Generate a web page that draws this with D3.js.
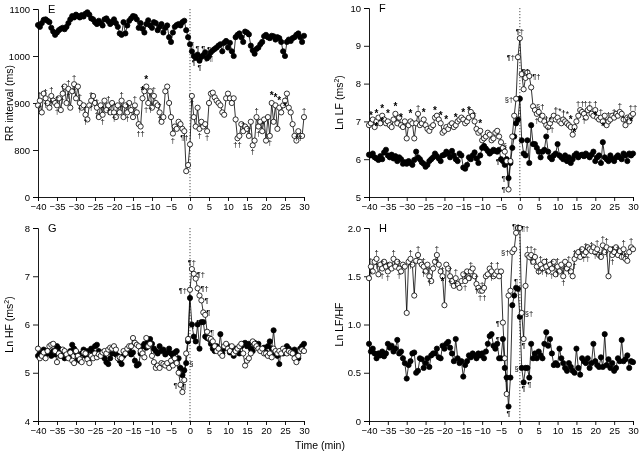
<!DOCTYPE html>
<html><head><meta charset="utf-8">
<script src="https://cdnjs.cloudflare.com/ajax/libs/d3/7.8.5/d3.min.js"></script>
<style>body{margin:0;background:#fff}svg{filter:grayscale(1)}text{font-family:"Liberation Sans",Arial,sans-serif;fill:#000}</style>
</head><body><svg id="c" width="640" height="457"></svg>
<script>
// time points: -40 .. 30 min in 0.5 min steps
const times = d3.range(-40, 30.01, 0.5);
const xTickValues = [-40,-35,-30,-25,-20,-15,-10,-5,0,5,10,15,20,25,30];

// Panel E: RR interval (ms)
const rrFilled = [
1066,1062,1070,1077,1078,1075,1072,1060,1052,1045,
1050,1055,1058,1060,1057,1062,1070,1078,1085,1082,
1088,1085,1082,1087,1084,1090,1093,1088,1080,1078,
1072,1068,1075,1070,1065,1078,1080,1074,1068,1072,
1078,1070,1062,1048,1045,1072,1048,1065,1075,1080,
1085,1084,1078,1060,1070,1058,1050,1068,1076,1065,
1060,1072,1070,1055,1062,1068,1050,1060,1065,1040,
1030,1050,1062,1066,1068,1065,1072,1075,1055,1040,
1025,1010,1000,996,1003,990,998,1002,1008,995,
1000,1008,1012,1015,1018,1022,1025,1010,1028,1032,
1018,1028,1010,1000,1040,1045,1048,1040,1030,1052,
1050,1046,1022,1012,1005,1015,1018,1025,1030,1042,
1045,1040,1038,1043,1042,1035,1040,1038,1030,1010,
1000,1030,1035,1032,1038,1040,1045,1048,1040,1030,
1043];
const rrOpen = [
895,905,880,920,910,900,890,915,905,900,
895,910,885,920,935,900,930,890,925,940,
910,935,900,890,895,875,865,895,905,915,
900,890,870,895,875,905,885,895,880,900,
880,870,895,880,905,870,895,880,900,885,
870,895,880,855,850,910,925,935,900,925,
890,915,900,895,880,860,870,925,935,900,
870,835,850,845,860,855,845,840,755,768,
812,915,870,850,890,845,860,850,855,840,
900,920,922,912,905,900,895,880,875,910,
920,910,900,910,865,825,830,855,840,850,
845,830,860,810,820,870,850,860,840,865,
820,870,830,900,860,895,845,890,880,895,
905,920,890,880,855,830,820,840,830,830,
870];
const rrTicks = [700,800,900,1000,1100];
const rrTickLabels = ["0","800","900","1000","1100"];

// Panel F: Ln LF (ms2)
const lfFilled = [
6.12,6.10,6.15,6.05,6.02,5.98,6.08,6.00,6.18,6.25,
6.10,6.05,6.12,6.02,6.08,5.95,6.05,6.00,5.88,5.92,
5.88,5.95,5.90,5.85,5.98,6.20,6.05,6.00,5.92,5.88,
5.80,5.85,5.95,6.00,6.05,6.15,6.08,6.02,5.95,6.10,
6.12,6.20,6.15,6.05,6.22,6.10,6.00,5.95,6.15,6.10,
5.78,5.75,5.85,6.05,6.00,6.10,6.18,6.02,5.90,6.10,
6.30,6.35,6.28,6.22,6.15,6.20,6.25,6.22,6.20,6.25,
6.00,5.95,5.85,6.00,5.50,5.90,6.30,6.60,6.95,7.05,
7.60,6.50,6.15,6.10,6.50,5.90,6.90,6.40,6.40,6.30,
6.20,6.05,6.20,6.25,6.60,6.20,6.05,6.00,6.10,6.15,
6.40,6.10,6.05,6.00,6.10,5.95,6.05,5.90,6.00,6.10,
6.15,6.05,6.10,6.12,6.08,6.15,6.10,6.05,6.12,6.20,
5.95,6.05,6.10,5.90,6.45,6.05,6.00,5.95,6.10,6.00,
5.95,6.05,6.10,6.05,6.00,6.15,6.10,5.95,6.15,6.10,
6.15];
const lfOpen = [
6.90,6.95,7.05,6.85,7.00,7.10,6.95,7.15,7.05,6.95,
7.00,6.90,6.85,7.05,7.20,6.95,7.10,6.90,6.85,7.00,
6.55,6.90,7.00,6.95,6.55,6.95,7.20,6.90,6.95,7.05,
6.90,6.80,6.75,6.85,6.90,7.10,7.15,7.05,6.95,6.70,
6.75,6.85,6.80,6.90,6.95,6.85,6.90,7.00,7.05,7.10,
7.05,6.95,7.00,7.10,7.25,7.15,7.00,6.80,6.70,6.75,
6.50,6.55,6.60,6.70,6.65,6.50,6.55,6.70,6.75,6.60,
6.45,6.30,6.20,5.95,5.20,5.95,6.60,7.15,7.60,8.70,
9.20,8.25,7.85,8.15,8.30,8.20,7.90,7.40,7.30,7.20,
7.25,7.05,7.15,7.00,6.90,6.85,6.95,7.05,7.15,7.05,
7.10,7.00,6.95,7.05,7.00,6.95,6.90,6.85,6.65,6.85,
7.00,7.15,7.30,7.25,7.20,7.10,7.30,7.35,7.20,7.15,
7.30,7.10,7.05,7.10,7.00,7.15,6.90,7.00,7.05,7.15,
7.10,7.20,7.15,7.25,7.20,7.05,6.90,7.10,7.00,7.15,
7.20];
const lfTicks = [5,6,7,8,9,10];
const lfTickLabels = ["5","6","7","8","9","10"];

// Panel G: Ln HF (ms2)
const hfFilled = [
5.35,5.42,5.40,5.48,5.38,5.45,5.40,5.35,5.45,5.38,
5.55,5.50,5.35,5.42,5.30,5.38,5.32,5.45,5.58,5.50,
5.42,5.28,5.25,5.40,5.48,5.35,5.45,5.30,5.50,5.42,
5.55,5.58,5.45,5.38,5.35,5.30,5.22,5.18,5.30,5.40,
5.42,5.38,5.35,5.25,5.18,5.35,5.40,5.45,5.50,5.38,
5.42,5.25,5.15,5.18,5.40,5.55,5.60,5.52,5.65,5.70,
5.60,5.50,5.45,5.40,5.55,5.45,5.48,5.38,5.42,5.50,
5.40,5.35,5.42,5.45,5.30,5.10,4.95,5.05,5.20,5.65,
6.55,6.00,5.75,5.65,6.00,5.50,6.05,6.05,5.75,5.72,
5.70,5.60,5.50,5.45,5.55,5.45,5.80,5.40,5.50,5.55,
5.55,5.42,5.48,5.35,5.50,5.45,5.40,5.55,5.60,5.62,
5.55,5.60,5.50,5.45,5.62,5.55,5.60,5.50,5.45,5.52,
5.42,5.55,5.65,5.50,5.88,5.40,5.35,5.18,5.45,5.40,
5.42,5.55,5.50,5.45,5.40,5.48,5.42,5.30,5.50,5.55,
5.60];
const hfOpen = [
5.50,5.30,5.35,5.42,5.30,5.45,5.55,5.58,5.60,5.45,
5.22,5.40,5.35,5.48,5.45,5.38,5.30,5.42,5.25,5.20,
5.45,5.35,5.28,5.22,5.42,5.40,5.28,5.20,5.35,5.30,
5.40,5.32,5.38,5.35,5.42,5.45,5.40,5.48,5.52,5.50,
5.55,5.48,5.30,5.32,5.30,5.45,5.40,5.50,5.55,5.55,
5.72,5.62,5.58,5.55,5.45,5.40,5.32,5.72,5.55,5.60,
5.35,5.22,5.10,5.15,5.10,5.20,5.18,5.15,5.20,5.10,
5.25,5.15,5.30,5.20,5.00,4.75,4.60,4.85,5.40,5.70,
6.72,7.15,7.05,6.95,6.75,6.60,6.50,6.25,6.20,5.85,
5.72,5.70,5.65,5.55,5.45,5.50,5.40,5.35,5.55,5.60,
5.50,5.45,5.55,5.40,5.45,5.50,5.55,5.60,5.40,5.15,
5.25,5.30,5.40,5.65,5.60,5.55,5.50,5.45,5.50,5.40,
5.40,5.35,5.40,5.32,5.50,5.45,5.40,5.45,5.40,5.50,
5.45,5.40,5.45,5.42,5.40,5.30,5.22,5.35,5.45,5.48,
5.45];
const hfTicks = [4,5,6,7,8];
const hfTickLabels = ["4","5","6","7","8"];

// Panel H: Ln LF/HF
const ratioFilled = [
0.80,0.72,0.75,0.70,0.65,0.70,0.68,0.72,0.67,0.70,
0.80,0.76,0.78,0.72,0.75,0.84,0.70,0.72,0.65,0.60,
0.44,0.58,0.62,0.70,0.71,0.50,0.52,0.65,0.64,0.55,
0.60,0.65,0.56,0.68,0.70,0.70,0.75,0.66,0.65,0.78,
0.75,0.80,0.82,0.76,0.70,0.62,0.85,0.65,0.60,0.62,
0.46,0.58,0.62,0.68,0.66,0.70,0.68,0.65,0.70,0.68,
0.70,0.65,0.72,0.80,0.88,0.90,0.78,0.75,0.80,0.65,
0.65,0.85,0.55,0.45,0.15,0.45,1.20,1.30,1.38,1.37,
1.08,0.55,0.40,0.55,0.55,0.45,0.80,0.65,0.70,0.65,
0.72,0.68,0.65,0.80,0.92,0.78,0.85,0.70,0.58,0.60,
0.58,0.75,0.65,0.60,0.55,0.52,0.60,0.56,0.52,0.50,
0.75,0.55,0.48,0.65,0.62,0.60,0.65,0.55,0.60,0.80,
0.62,0.58,0.56,0.66,0.56,0.90,0.58,0.64,0.55,0.60,
0.52,0.55,0.65,0.62,0.84,0.62,0.64,0.68,0.55,0.62,
0.61];
const ratioOpen = [
1.48,1.60,1.55,1.65,1.68,1.52,1.62,1.58,1.65,1.60,
1.55,1.62,1.58,1.68,1.60,1.65,1.58,1.55,1.62,1.60,
1.12,1.65,1.68,1.62,1.30,1.66,1.72,1.65,1.62,1.60,
1.55,1.62,1.50,1.45,1.58,1.65,1.72,1.62,1.55,1.50,
1.20,1.62,1.58,1.50,1.45,1.40,1.48,1.42,1.38,1.45,
1.52,1.45,1.55,1.48,1.55,1.58,1.50,1.42,1.38,1.35,
1.35,1.38,1.50,1.52,1.58,1.55,1.50,1.52,1.55,1.50,
1.55,1.02,0.65,0.28,1.30,1.35,1.75,1.78,1.95,2.00,
2.00,1.12,0.85,1.40,1.72,1.70,1.72,1.65,1.70,1.60,
1.55,1.62,1.58,1.65,1.60,1.55,1.62,1.58,1.65,1.52,
1.60,1.55,1.62,1.50,1.65,1.58,1.62,1.55,1.50,1.68,
1.72,1.75,1.70,1.78,1.72,1.75,1.80,1.78,1.76,1.80,
1.75,1.78,1.72,1.70,1.82,1.75,1.80,1.50,1.78,1.72,
1.75,1.80,1.72,1.76,1.70,1.78,1.68,1.66,1.75,1.80,
1.78];
const ratioTicks = [0,0.5,1.0,1.5,2.0];
const ratioTickLabels = ["0","0.5","1.0","1.5","2.0"];

// significance marks: [time, symbol, side] side: 1 above, -1 below, 0 left, 2 right
const marksRRFilled = [[0.5,"¶",1],[2,"¶",1],[3.5,"¶",1],[5,"¶",1],[1,"¶",-1],[2.5,"¶",-1],[4,"¶",-1],[5.5,"¶",-1]];
const marksRROpen = [
[-39.5,"†",1],[-38,"†",1],[-36.5,"†",1],[-35,"†",1],[-33.5,"†",1],[-32,"†",1],[-30.5,"†",1],[-29,"†",1],[-27.5,"†",1],[-26,"†",1],[-24.5,"†",1],[-23,"†",1],[-21.5,"†",1],[-20,"†",1],[-18,"†",1],[-16.5,"†",1],[-14.5,"†",1],[-12.5,"*",1],[-11.5,"*",1],[-9.5,"†",1],[-8,"†",1],
[-39.5,"†",-1],[-38,"†",-1],[-36.5,"†",-1],[-35,"†",-1],[-33.5,"†",-1],[-32,"†",-1],[-30.5,"†",-1],[-29,"†",-1],[-27.5,"†",-1],[-26,"†",-1],[-24.5,"†",-1],[-23,"†",-1],[-21.5,"†",-1],[-20,"†",-1],[-18,"†",-1],[-16.5,"†",-1],[-13,"††",-1],[-11,"††",-1],[-8,"†",-1],[-4.5,"†",-1],
[-1.5,"¶†",-1],[0.5,"†",-1],[2.5,"†",-1],[4.5,"†",-1],[12.5,"††",-1],[16.5,"†",-1],[18,"†",-1],[21,"†",-1],[25,"*",-1],[28.5,"††",-1],
[14,"†",1],[15.5,"†",1],[17.5,"†",1],[19,"†",1],[21.5,"*",1],[22.5,"*",1],[23.5,"*",1],[30,"†",1]];
const marksLFFilled = [[-4.5,"¶",0],[-3,"¶",0]];
const marksLFOpen = [
[-39.5,"*",1],[-38,"*",1],[-36.5,"*",1],[-35,"*",1],[-33,"*",1],[-31.5,"*",1],[-29,"*",1],[-27,"†",1],[-25.5,"*",1],[-22.5,"*",1],[-21,"*",1],[-19.5,"*",1],[-17,"*",1],[-15,"*",1],[-13.5,"*",1],[-12,"†",1],[-10.5,"*",1],
[-38,"*",-1],[-36.5,"*",-1],
[-4,"§",1],[-3,"¶",0],[-1,"§†",0],[-0.5,"¶†",0],[0,"¶†",1],[1.5,"¶†",1],[2.5,"¶†",2],[3.5,"§†",2],[4.5,"†",-1],[7.5,"†*",1],[8,"††",-1],
[10,"†*",1],[12,"†*",1],[13.5,"*",1],[14.5,"*",-1],[16,"††",1],[18,"††",1],[20,"†",1],[21.5,"†",1],[23.5,"†",1],[25,"†",1],[26.5,"†",1],[28,"††",1],[30,"††",1],[17,"†",-1],[20,"*",-1],[22,"*",-1],[29.5,"*",-1]];
const marksHFFilled = [[-1,"§",2],[2,"¶",0],[3.5,"¶",0]];
const marksHFOpen = [[-2.5,"¶",0],[-1.5,"¶",-1],[0,"¶†",0],[0.5,"¶†",1],[1,"¶†",2],[2,"¶†",2],[3,"¶",2],[3.5,"¶",2],[4.5,"¶",2]];
const marksRatioFilled = [[-4.5,"¶",0],[-3,"¶",-1],[-2.5,"¶",0],[-1,"¶",1],[0.5,"§",0],[1,"¶",-1],[2.5,"¶",-1]];
const marksRatioOpen = [
[-39.5,"†",1],[-38,"†",1],[-36.5,"†",1],[-35,"†",1],[-33.5,"†",1],[-32,"†",1],[-29,"†",1],[-27,"†",1],[-25.5,"†",1],[-24,"†",1],[-22,"†",1],[-20.5,"†",1],[-18.5,"†",1],[-17,"†",1],[-14.5,"†",1],[-13,"†",1],[-11.5,"†",1],[-10,"†",1],[-7.5,"†",1],[-6,"†",1],
[-39.5,"†",-1],[-38,"†",-1],[-36.5,"†",-1],[-35,"†",-1],[-32,"†",-1],[-29,"†",-1],[-25.5,"†",-1],[-24,"†",-1],[-22,"†",-1],[-20.5,"*",-1],[-18.5,"†",-1],[-17,"†",-1],[-14.5,"†",-1],[-13,"†",-1],[-11.5,"†",-1],[-10,"††",-1],[-7.5,"†",-1],
[-4.5,"¶",0],[-2,"§†",0],[-1,"¶†",1],[-0.5,"¶†",2],[0.5,"§†",2],[1,"¶",-1],
[2,"†",1],[3,"†",1],[4,"†",1],[5.5,"†",1],[7,"†",1],[8.5,"†",1],[10,"†",1],[11.5,"†",1],[13,"†",1],[14.5,"†",1],[16,"†",1],[17.5,"†",1],[19,"†",1],[20.5,"†",1],[22,"†",1],[23,"†",1],[24.5,"†",1],[26,"†",1],[27.5,"†",1],[29.5,"†",1],
[3,"†",-1],[5.5,"††",-1],[7,"†",-1],[8.5,"†",-1],[10,"†",-1],[11.5,"†",-1],[13,"†",-1],[14.5,"†",-1],[17.5,"††",-1],[20.5,"††",-1],[23,"†",-1],[24.5,"†",-1],[27.5,"††",-1]];

const svg = d3.select("#c");
const panels = [
 {x0:38,x1:304,yTop:9,yBot:197,dom:[700,1100],ticks:rrTicks,labels:rrTickLabels,filled:rrFilled,open:rrOpen,mf:marksRRFilled,mo:marksRROpen,letter:"E",title:["RR interval (ms)"],tx:13},
 {x0:369,x1:633,yTop:8,yBot:197,dom:[5,10],ticks:lfTicks,labels:lfTickLabels,filled:lfFilled,open:lfOpen,mf:marksLFFilled,mo:marksLFOpen,letter:"F",title:["Ln LF (ms","2",")"],tx:343},
 {x0:38,x1:304,yTop:228,yBot:421,dom:[4,8],ticks:hfTicks,labels:hfTickLabels,filled:hfFilled,open:hfOpen,mf:marksHFFilled,mo:marksHFOpen,letter:"G",title:["Ln HF (ms","2",")"],tx:13},
 {x0:369,x1:633,yTop:228,yBot:421,dom:[0,2],ticks:ratioTicks,labels:ratioTickLabels,filled:ratioFilled,open:ratioOpen,mf:marksRatioFilled,mo:marksRatioOpen,letter:"H",title:["Ln LF/HF"],tx:343}
];

panels.forEach(p => {
  const x = d3.scaleLinear().domain([-40,30]).range([p.x0,p.x1]);
  const y = d3.scaleLinear().domain(p.dom).range([p.yBot,p.yTop]);
  const g = svg.append("g");
  const xa = g.append("g").attr("transform",`translate(0,${p.yBot})`)
    .call(d3.axisBottom(x).tickValues(xTickValues).tickSize(4).tickPadding(2).tickFormat(d=>d<0?"\u2212"+(-d):d));
  const ya = g.append("g").attr("transform",`translate(${p.x0},0)`)
    .call(d3.axisLeft(y).tickValues(p.ticks).tickSize(5).tickPadding(3).tickFormat((d,i)=>p.labels[i]));
  [xa,ya].forEach(a=>{a.select(".domain").attr("stroke","#000").attr("stroke-width",0.9);
    a.selectAll(".tick line").attr("stroke","#000").attr("stroke-width",0.9);
    a.selectAll("text").attr("font-size",9.5).attr("fill","#000").attr("font-family","Liberation Sans, Arial, sans-serif");});
  g.append("text").attr("x",p.x0+10).attr("y",p.yTop+4).attr("font-size",11).text(p.letter);
  const t = g.append("text").attr("transform",`translate(${p.tx},${(p.yTop+p.yBot)/2}) rotate(-90)`)
    .attr("text-anchor","middle").attr("font-size",10.5);
  t.append("tspan").text(p.title[0]);
  if (p.title.length>1){ t.append("tspan").attr("dy",-4).attr("font-size",7).text(p.title[1]); t.append("tspan").attr("dy",4).text(p.title[2]); }
  g.append("line").attr("x1",x(0)).attr("x2",x(0)).attr("y1",p.yTop).attr("y2",p.yBot)
    .attr("stroke","#000").attr("stroke-width",0.7).attr("stroke-dasharray","1.2,1.8");
  const line = d3.line().x((d,i)=>x(times[i])).y(d=>y(d));
  const drawSeries = (vals, fill) => {
    g.append("path").attr("d",line(vals)).attr("fill","none").attr("stroke","#000").attr("stroke-width",0.8);
    g.selectAll(null).data(vals).enter().append("circle")
      .attr("cx",(d,i)=>x(times[i])).attr("cy",d=>y(d)).attr("r",2.6)
      .attr("fill",fill).attr("stroke","#000").attr("stroke-width",0.8);
  };
  drawSeries(p.filled,"#000");
  drawSeries(p.open,"#fff");
  const mg = g.append("g");
  const drawMarks = (marks, vals) => {
    mg.selectAll(null).data(marks).enter().append("text")
      .attr("x",d=>x(d[0]) + (d[2]===0?-3:d[2]===2?3:0))
      .attr("y",d=>{const v=vals[Math.round((d[0]+40)*2)]; return y(v)+(d[2]===1?-4:d[2]===-1?9:3);})
      .attr("text-anchor",d=>d[2]===0?"end":d[2]===2?"start":"middle")
      .attr("font-size",d=>d[1]==="*"?10:(d[1].indexOf("*")>=0?8.5:7.5)).attr("font-weight",d=>d[1]==="*"?"bold":"normal")
      .text(d=>d[1]);
  };
  drawMarks(p.mf,p.filled);
  drawMarks(p.mo,p.open);
});
svg.append("text").attr("x",320).attr("y",449).attr("text-anchor","middle").attr("font-size",10.5).text("Time (min)");
</script></body></html>
